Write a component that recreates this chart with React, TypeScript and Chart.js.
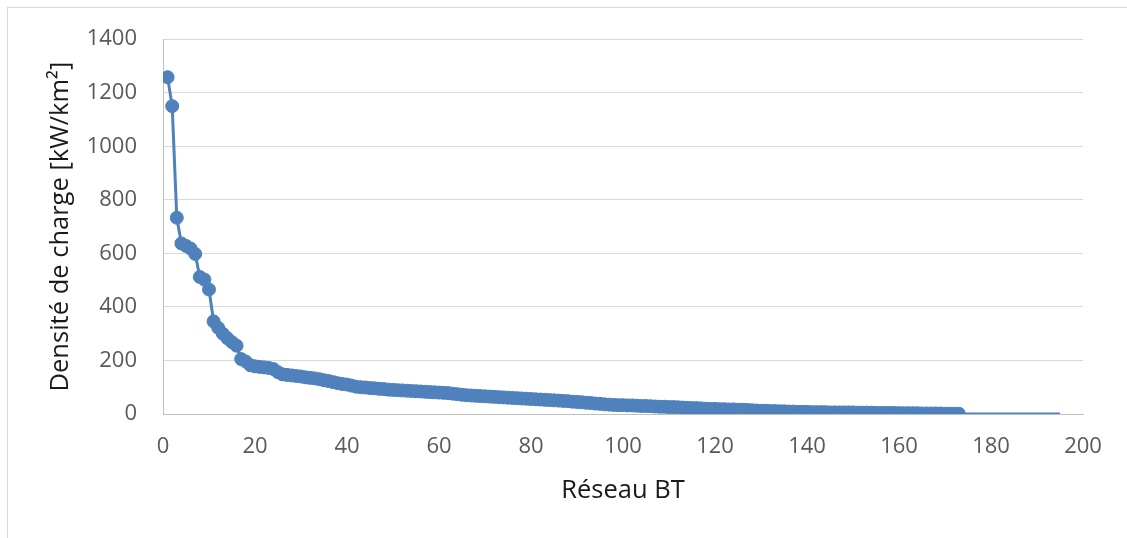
import React, { useEffect, useRef } from "react";
import { Chart, registerables } from "chart.js";

Chart.register(...registerables);

// Densité de charge [kW/km²] for each Réseau BT (1..195), sorted descending
const density: number[] = [
  1258, 1150, 733, 637, 628, 618, 598, 512, 502, 465,
  346, 322, 300, 283, 268, 255, 205, 196, 182, 178,
  176, 174, 172, 168, 156, 148, 146, 144, 142, 140,
  137, 135, 133, 130, 126, 123, 119, 115, 112, 110,
  106, 102, 100, 99, 97, 96, 94, 93, 91, 90,
  89, 88, 87, 86, 85, 84, 83, 82, 81, 80,
  79, 78, 76, 74, 72, 70, 69, 68, 67, 66,
  65, 64, 63, 62, 61, 60, 59, 58, 57, 56,
  55, 54, 53, 52, 51, 50, 49, 48, 46, 45,
  44, 42, 41, 39, 38, 36, 35, 34, 33, 33,
  32, 32, 31, 30, 30, 29, 28, 27, 27, 26,
  26, 25, 24, 23, 22, 22, 21, 20, 19, 19,
  18, 18, 17, 17, 16, 16, 15, 14, 13, 12,
  12, 11, 11, 10, 10, 9, 9, 8, 8, 8,
  7, 7, 7, 7, 6, 6, 6, 6, 6, 6,
  5, 5, 5, 5, 4, 4, 4, 4, 4, 3,
  3, 3, 3, 3, 2, 2, 2, 2, 2, 1,
  1, 1, 1, 0, 0, 0, 0, 0, 0, 0,
  0, 0, 0, 0, 0, 0, 0, 0, 0, 0,
  0, 0, 0, 0, 0,
];

// Réseau BT index (categories)
const reseauBT: number[] = density.map((_, i) => i + 1);

// Only the first networks carry a marker
const markedCount = 173;

const xTicks = { min: 0, max: 200, step: 20 };
const yTicks = { min: 0, max: 1400, step: 200 };

const xTitle = "Réseau BT";
const yTitle = "Densité de charge [kW/km²]";

const BLUE = "#4F81BD";
const FONT = "'Open Sans', 'Noto Sans', sans-serif";

export default function App() {
  const ref = useRef<HTMLCanvasElement>(null);

  useEffect(() => {
    const points = reseauBT.map((x, i) => ({ x, y: density[i] }));
    const chart = new Chart(ref.current!, {
      type: "line",
      data: {
        datasets: [
          {
            data: points,
            borderColor: BLUE,
            backgroundColor: BLUE,
            borderWidth: 3,
            tension: 0,
            pointRadius: (ctx: any) => (ctx.dataIndex < markedCount ? 6.5 : 0),
            pointBorderWidth: 1,
            pointBorderColor: BLUE,
            pointBackgroundColor: BLUE,
            pointHoverRadius: 0,
          },
        ],
      },
      options: {
        responsive: false,
        animation: false,
        devicePixelRatio: 1,
        layout: { padding: { left: 0, top: 38, right: 44, bottom: 0 } },
        plugins: {
          legend: { display: false },
          tooltip: { enabled: false },
        },
        scales: {
          x: {
            type: "linear",
            min: xTicks.min,
            max: xTicks.max,
            ticks: {
              stepSize: xTicks.step,
              color: "#595959",
              font: { family: FONT, size: 22 },
              padding: 20,
              maxRotation: 0,
              callback: (v: any) => String(v),
            },
            grid: { display: false, drawTicks: false },
            border: { display: true, color: "#bfbfbf", width: 1 },
            title: {
              display: true,
              text: xTitle,
              color: "#1a1a1a",
              font: { family: FONT, size: 25.5 },
              padding: { top: 0, bottom: 32 },
            },
            afterFit: (s: any) => {
              s.height = 124;
            },
          },
          y: {
            type: "linear",
            min: yTicks.min,
            max: yTicks.max,
            ticks: {
              stepSize: yTicks.step,
              color: "#595959",
              font: { family: FONT, size: 22 },
              padding: 26,
              callback: (v: any) => String(v),
            },
            grid: { display: true, color: "#d9d9d9", lineWidth: 1, drawTicks: false },
            border: { display: true, color: "#bfbfbf", width: 1 },
            title: {
              display: true,
              text: yTitle,
              color: "#1a1a1a",
              font: { family: FONT, size: 25.5 },
              padding: { top: 45, bottom: 0 },
            },
            afterFit: (s: any) => {
              s.width = 163;
            },
          },
        },
      },
    });
    return () => chart.destroy();
  }, []);

  return (
    <div
      style={{
        position: "fixed",
        left: 0,
        top: 0,
        width: 1127,
        height: 538,
        background: "#ffffff",
      }}
    >
      <div
        style={{
          position: "absolute",
          left: 7,
          top: 7,
          width: 1120,
          height: 531,
          borderTop: "1px solid #d9d9d9",
          borderLeft: "1px solid #d9d9d9",
          boxSizing: "border-box",
        }}
      />
      <canvas
        ref={ref}
        width={1127}
        height={538}
        style={{ position: "absolute", left: 0, top: 0, width: 1127, height: 538 }}
      />
    </div>
  );
}
